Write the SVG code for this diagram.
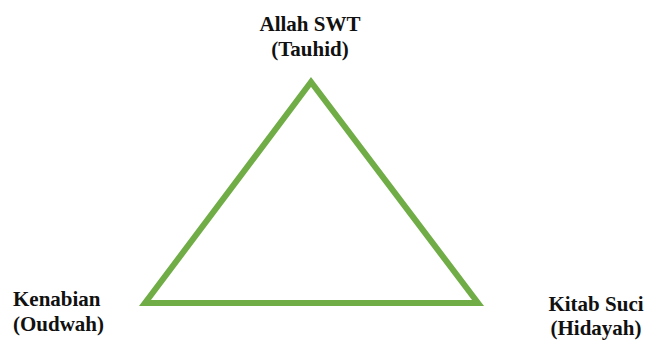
<svg xmlns="http://www.w3.org/2000/svg" width="648" height="340" viewBox="0 0 648 340">
<style>
.t{font-family:"Liberation Serif","Times New Roman",serif;font-weight:bold;font-size:21px;fill:#111}
.tri{fill:none;stroke:#70AD47;stroke-width:6;stroke-linejoin:miter}
</style>
<rect width="648" height="340" fill="#fff"/>
<g id="connectors">
<polygon class="tri" points="311,82 145,303 478,303"/>
</g>
<g id="top">
<text class="t" x="310" y="31" text-anchor="middle">Allah SWT</text>
<text class="t" x="310" y="56" text-anchor="middle">(Tauhid)</text>
</g>
<g id="left">
<text class="t" x="13" y="306">Kenabian</text>
<text class="t" x="13" y="331">(Oudwah)</text>
</g>
<g id="right">
<text class="t" x="596" y="311" text-anchor="middle">Kitab Suci</text>
<text class="t" x="596" y="335" text-anchor="middle">(Hidayah)</text>
</g>
</svg>
